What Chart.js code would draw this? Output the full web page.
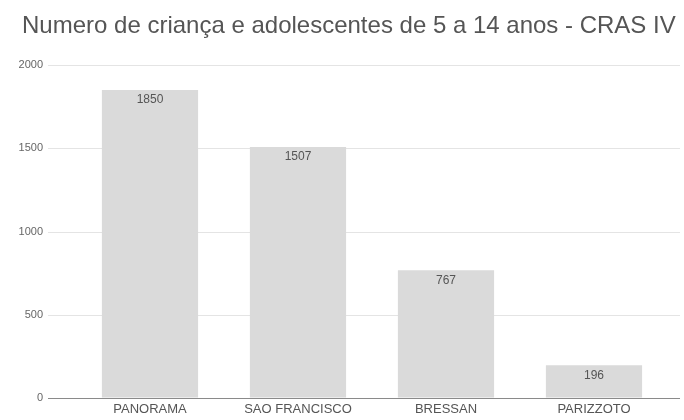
<!DOCTYPE html>
<html>
<head>
<meta charset="utf-8">
<script src="https://cdn.jsdelivr.net/npm/chart.js@4/dist/chart.umd.min.js"></script>
<style>
  html, body { margin: 0; padding: 0; background: #fff; overflow: hidden; }
  canvas { display: block; }
</style>
</head>
<body>
<canvas id="c" width="684" height="420"></canvas>
<script>
/* ---- data ---- */
const TITLE = "Numero de criança e adolescentes de 5 a 14 anos - CRAS IV";
const bairros = ["PANORAMA", "SAO FRANCISCO", "BRESSAN", "PARIZZOTO"];
const criancas = [1850, 1507, 767, 196];
const yTicks = [0, 500, 1000, 1500, 2000];

const FONT = "'Liberation Sans', Arial, sans-serif";

/* title sits further left than the plot, and grid lines reach past
   the category band, like the original */
const gridPlugin = {
  id: "wideGrid",
  beforeDatasetsDraw(chart) {
    const { ctx, scales: { y } } = chart;
    ctx.save();
    ctx.strokeStyle = "#e4e4e4";
    ctx.lineWidth = 1;
    yTicks.filter(v => v > 0).forEach(v => {
      const py = Math.round(y.getPixelForValue(v)) + 0.5;
      ctx.beginPath();
      ctx.moveTo(48, py);
      ctx.lineTo(680, py);
      ctx.stroke();
    });
    ctx.restore();
  },
  afterDatasetsDraw(chart) {
    const { ctx, scales: { y } } = chart;
    const py = Math.round(y.getPixelForValue(0)) + 0.5;
    ctx.save();
    ctx.strokeStyle = "#8a8a8a";
    ctx.lineWidth = 1.2;
    ctx.beginPath();
    ctx.moveTo(48, py);
    ctx.lineTo(680, py);
    ctx.stroke();

    // value labels inside top of each bar
    ctx.fillStyle = "#555";
    ctx.font = "12px " + FONT;
    ctx.textAlign = "center";
    ctx.textBaseline = "middle";
    chart.getDatasetMeta(0).data.forEach((bar, i) => {
      ctx.fillText(String(criancas[i]), bar.x, bar.y + 10);
    });

    // title
    ctx.fillStyle = "#555";
    ctx.font = "24px " + FONT;
    ctx.textAlign = "left";
    ctx.fillText(TITLE, 22, 26);
    ctx.restore();
  }
};

new Chart(document.getElementById("c"), {
  type: "bar",
  data: {
    labels: bairros,
    datasets: [{
      data: criancas,
      backgroundColor: "#dadada",
      borderWidth: 0,
      categoryPercentage: 1,
      barPercentage: 0.65,
    }],
  },
  options: {
    responsive: false,
    animation: false,
    layout: { padding: { left: 0, right: 16, top: 65, bottom: 0 } },
    plugins: {
      legend: { display: false },
      tooltip: { enabled: false },
      title: { display: false },
    },
    scales: {
      x: {
        afterFit: s => { s.height = 22; },
        grid: { display: false, drawTicks: false },
        border: { display: false },
        ticks: {
          color: "#555",
          padding: 4,
          maxRotation: 0,
          font: { family: FONT, size: 13 },
        },
      },
      y: {
        min: 0,
        max: 2000,
        afterFit: s => { s.width = 76; },
        afterBuildTicks: s => { s.ticks = yTicks.map(v => ({ value: v })); },
        // invisible tick marks push the labels left without adding bottom padding
        grid: { display: true, drawOnChartArea: false, color: "rgba(0,0,0,0)", drawTicks: true, tickLength: 31 },
        border: { display: false },
        ticks: {
          color: "#666",
          padding: 2,
          callback: v => String(v),
          font: { family: FONT, size: 11 },
        },
      },
    },
  },
  plugins: [gridPlugin],
});
</script>
</body>
</html>
